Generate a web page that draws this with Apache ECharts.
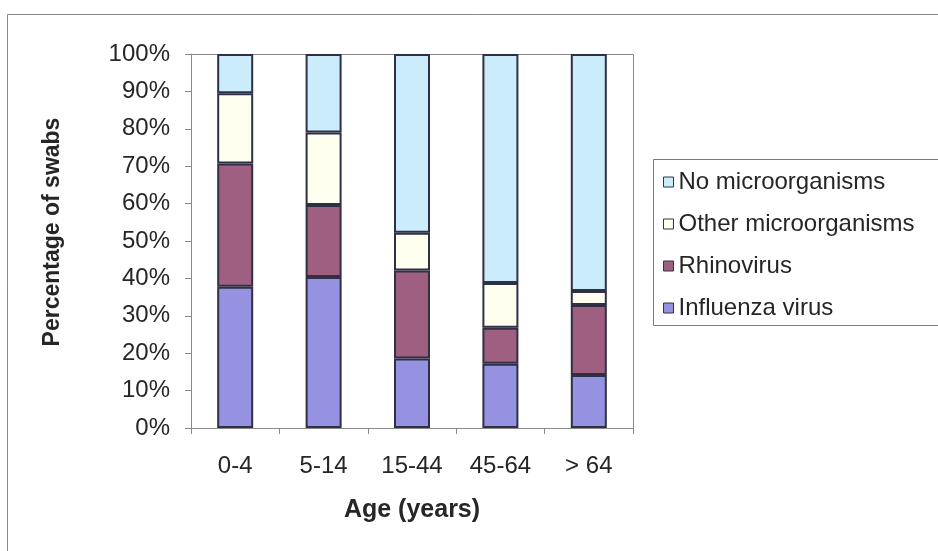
<!DOCTYPE html>
<html>
<head>
<meta charset="utf-8">
<script src="https://cdn.jsdelivr.net/npm/echarts@6/dist/echarts.min.js"></script>
<style>
  html, body { margin: 0; padding: 0; background: #ffffff; }
  #chart { width: 938px; height: 551px; }
</style>
</head>
<body>
<div id="chart"></div>
<script>
// Age groups on the x axis
const ageGroups = ['0-4', '5-14', '15-44', '45-64', '> 64'];

// Share of swabs (%) per age group, stacked bottom to top
const influenza = [37.8, 40.4, 18.6, 17.2, 14.2];
const rhinovirus = [32.9, 19.2, 23.5, 9.6, 18.7];
const otherMicro = [18.8, 19.4, 10.1, 12.0, 3.7];
const noMicro = [10.5, 21.0, 47.8, 61.2, 63.4];

const yTicks = { min: 0, max: 100, interval: 10 };

const seriesDefs = [
  { name: 'Influenza virus', data: influenza, color: '#9592e2' },
  { name: 'Rhinovirus', data: rhinovirus, color: '#9f5f80' },
  { name: 'Other microorganisms', data: otherMicro, color: '#fffff0' },
  { name: 'No microorganisms', data: noMicro, color: '#cbecfa' }
];

const chart = echarts.init(document.getElementById('chart'), null, { renderer: 'canvas' });
const FONT = 'Liberation Sans, Arial, sans-serif';
const TXT = '#262626';
const FRAME = '#8a8a8a';

chart.setOption({
  backgroundColor: '#ffffff',
  animation: false,
  textStyle: { fontFamily: FONT, color: TXT },
  grid: { left: 191, right: 305, top: 54, bottom: 123, show: false },
  graphic: [
    // outer chart frame
    { type: 'line', shape: { x1: 7.5, y1: 14.5, x2: 938, y2: 14.5 }, style: { stroke: FRAME, lineWidth: 1 } },
    { type: 'line', shape: { x1: 7.5, y1: 14.5, x2: 7.5, y2: 551 }, style: { stroke: FRAME, lineWidth: 1 } },
    // plot area frame (top and right)
    { type: 'line', shape: { x1: 191, y1: 54.5, x2: 633.5, y2: 54.5 }, style: { stroke: FRAME, lineWidth: 1 } },
    { type: 'line', shape: { x1: 633.5, y1: 54.5, x2: 633.5, y2: 428 }, style: { stroke: FRAME, lineWidth: 1 } },
    // legend box
    { type: 'rect', shape: { x: 653.5, y: 159.5, width: 300, height: 166 }, style: { fill: 'none', stroke: '#7a7a7a', lineWidth: 1 } }
  ],
  legend: {
    orient: 'vertical',
    left: 658,
    top: 165,
    padding: 5,
    itemGap: 18,
    itemWidth: 10,
    itemHeight: 10,
    icon: 'rect',
    data: ['No microorganisms', 'Other microorganisms', 'Rhinovirus', 'Influenza virus'],
    textStyle: { fontFamily: FONT, fontSize: 24, lineHeight: 24, color: TXT },
    itemStyle: { borderColor: '#333344', borderWidth: 1 }
  },
  xAxis: {
    type: 'category',
    data: ageGroups,
    name: 'Age (years)',
    nameLocation: 'middle',
    nameGap: 70,
    nameTextStyle: { fontFamily: FONT, fontSize: 25, fontWeight: 'bold', color: TXT },
    axisLine: { lineStyle: { color: FRAME, width: 1 } },
    axisTick: { show: true, length: 6, alignWithLabel: false, lineStyle: { color: FRAME } },
    axisLabel: { fontFamily: FONT, fontSize: 24, color: TXT, margin: 26 }
  },
  yAxis: {
    type: 'value',
    min: yTicks.min,
    max: yTicks.max,
    interval: yTicks.interval,
    name: 'Percentage of swabs',
    nameLocation: 'middle',
    nameGap: 127,
    nameRotate: 90,
    nameTextStyle: { fontFamily: FONT, fontSize: 23, fontWeight: 'bold', color: TXT, padding: [0, 0, 0, 18] },
    splitLine: { show: false },
    axisLine: { show: true, lineStyle: { color: FRAME, width: 1 } },
    axisTick: { show: true, length: 6, lineStyle: { color: FRAME } },
    axisLabel: { fontFamily: FONT, fontSize: 24, color: TXT, margin: 21, formatter: '{value}%' }
  },
  series: seriesDefs.map(s => ({
    name: s.name,
    type: 'bar',
    stack: 'total',
    data: s.data,
    barWidth: 36,
    itemStyle: { color: s.color, borderColor: '#2f2f45', borderWidth: 2 }
  }))
});
</script>
</body>
</html>
